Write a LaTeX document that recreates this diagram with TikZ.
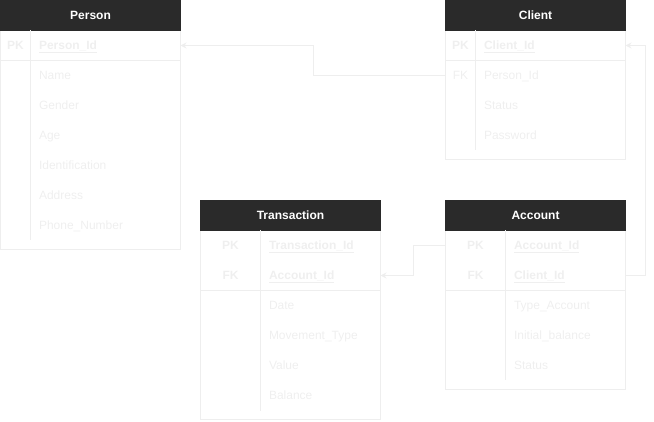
\documentclass[tikz,border=0pt]{standalone}
\usepackage{fontspec}
\setmainfont{Liberation Sans}
\usepackage{xcolor}
\usepackage{tikz}
\usetikzlibrary{arrows,arrows.meta}
\definecolor{headgray}{HTML}{2A2A2A}
\definecolor{palegray}{HTML}{EEEEEE}
\definecolor{textgray}{HTML}{EFEFEF}
\tikzset{
every picture/.style={line width=1pt, >={Stealth[length=6pt,width=6pt]},
                      x=1pt, y=-1pt},
%%%%%%%%%%  Node styles
header/.style={fill=headgray, draw=headgray, minimum width=180pt,
               minimum height=30pt, inner sep=0pt, text=white,
               text height=8.6pt, text depth=0pt,
               font=\fontsize{12}{14}\selectfont\bfseries},
rowbox/.style={minimum width=180pt, minimum height=30pt, inner sep=0pt,
               outer sep=0pt},
keytext/.style={text=textgray, inner sep=0pt, text height=8.6pt,
                text depth=0pt,
                font=\fontsize{12}{14}\selectfont\bfseries},
keyplain/.style={keytext, font=\fontsize{12}{14}\selectfont},
field/.style={anchor=west, text=textgray, inner sep=0pt, text height=8.6pt,
              text depth=0pt, font=\fontsize{12}{14}\selectfont},
keyfield/.style={field, font=\fontsize{12}{14}\selectfont\bfseries},
%%%% different line styles:
table_line/.style={draw=palegray},
relation/.style={draw=palegray, ->}
}

\begin{document}
\begin{tikzpicture}
\useasboundingbox (0,0) rectangle (654,422);
%%Person table
\draw[table_line] (0.5,30.5) rectangle (180.5,249.5);
\node[header] (per) at (90.5,15.5) {Person};
\node[rowbox] (per_pk) at (90.5,45.5) {};
\draw[table_line] (0.5,60.5) -- (180.5,60.5);
\draw[table_line] (30.5,30.5) -- (30.5,240.5);
\node[keytext] at (15.5,45.5) {PK};
\node[keyfield] at (38.5,45.5) {\underline{Person\_Id}};
\node[field] at (38.5,75.5) {Name};
\node[field] at (38.5,105.5) {Gender};
\node[field] at (38.5,135.5) {Age};
\node[field] at (38.5,165.5) {Identification};
\node[field] at (38.5,195.5) {Address};
\node[field] at (38.5,225.5) {Phone\_Number};
%%Client table
\draw[table_line] (445.5,30.5) rectangle (625.5,159.5);
\node[header] (cli) at (535.5,15.5) {Client};
\node[rowbox] (cli_pk) at (535.5,45.5) {};
\node[rowbox] (cli_fk) at (535.5,75.5) {};
\draw[table_line] (445.5,60.5) -- (625.5,60.5);
\draw[table_line] (475.5,30.5) -- (475.5,150.5);
\node[keytext] at (460.5,45.5) {PK};
\node[keyplain] at (460.5,75.5) {FK};
\node[keyfield] at (483.5,45.5) {\underline{Client\_Id}};
\node[field] at (483.5,75.5) {Person\_Id};
\node[field] at (483.5,105.5) {Status};
\node[field] at (483.5,135.5) {Password};
%%Account table
\draw[table_line] (445.5,230.5) rectangle (625.5,389.5);
\node[header] (acc) at (535.5,215.5) {Account};
\node[rowbox] (acc_pk) at (535.5,245.5) {};
\node[rowbox] (acc_fk) at (535.5,275.5) {};
\draw[table_line] (445.5,290.5) -- (625.5,290.5);
\draw[table_line] (505.5,230.5) -- (505.5,380.5);
\node[keytext] at (475.5,245.5) {PK};
\node[keytext] at (475.5,275.5) {FK};
\node[keyfield] at (513.5,245.5) {\underline{Account\_Id}};
\node[keyfield] at (513.5,275.5) {\underline{Client\_Id}};
\node[field] at (513.5,305.5) {Type\_Account};
\node[field] at (513.5,335.5) {Initial\_balance};
\node[field] at (513.5,365.5) {Status};
%%Transaction table
\draw[table_line] (200.5,230.5) rectangle (380.5,419.5);
\node[header] (tra) at (290.5,215.5) {Transaction};
\node[rowbox] (tra_pk) at (290.5,245.5) {};
\node[rowbox] (tra_fk) at (290.5,275.5) {};
\draw[table_line] (200.5,290.5) -- (380.5,290.5);
\draw[table_line] (260.5,230.5) -- (260.5,410.5);
\node[keytext] at (230.5,245.5) {PK};
\node[keytext] at (230.5,275.5) {FK};
\node[keyfield] at (268.5,245.5) {\underline{Transaction\_Id}};
\node[keyfield] at (268.5,275.5) {\underline{Account\_Id}};
\node[field] at (268.5,305.5) {Date};
\node[field] at (268.5,335.5) {Movement\_Type};
\node[field] at (268.5,365.5) {Value};
\node[field] at (268.5,395.5) {Balance};
%%relations
\draw[relation] (cli_fk.west) -- ++(-132.5,0) |- (per_pk.east);
\draw[relation] (acc_fk.east) -- ++(20,0) |- (cli_pk.east);
\draw[relation] (acc_pk.west) -- ++(-32.5,0) |- (tra_fk.east);
\end{tikzpicture}
\end{document}
